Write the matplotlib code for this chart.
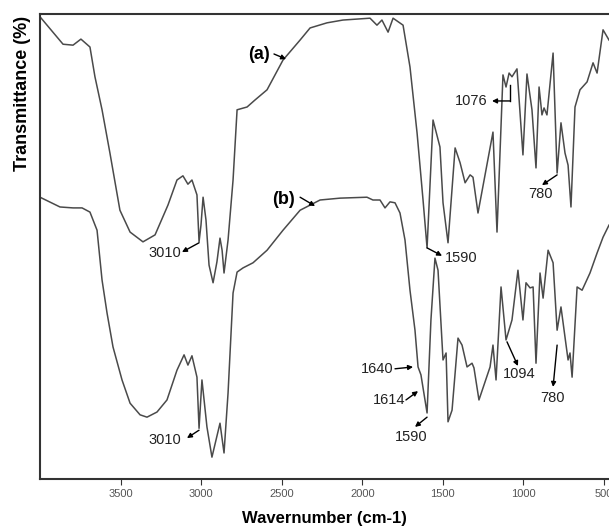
import matplotlib.pyplot as plt

plt.rcParams['font.family'] = ['Liberation Sans', 'DejaVu Sans']

# curve (a), wavenumber (cm-1) and transmittance (arbitrary %)
wn_a = [4000, 3857, 3795, 3746, 3690, 3659, 3615, 3566, 3504, 3441, 3361, 3286, 3206, 3150,
        3113, 3082, 3057, 3026, 3013, 3001, 2988, 2970, 2951, 2926, 2902, 2883, 2870, 2858,
        2833, 2802, 2777, 2715, 2666, 2591, 2492, 2386, 2324, 2219, 2120, 1952, 1909, 1878,
        1840, 1809, 1747, 1704, 1660, 1623, 1598, 1561, 1518, 1499, 1468, 1424, 1393, 1362,
        1331, 1313, 1282, 1189, 1164, 1127, 1108, 1089, 1071, 1040, 1003, 978, 947, 922, 903,
        885, 872, 854, 816, 791, 767, 742, 723, 705, 680, 649, 605, 568, 543, 506, 469]
t_a = [99.4, 93.5, 93.3, 94.6, 92.9, 86.5, 79.4, 70.1, 57.8, 53.1, 51.0, 52.5, 58.9, 64.3,
       65.2, 63.4, 64.3, 61.1, 51.0, 54.6, 60.6, 55.7, 46.0, 42.2, 46.7, 51.8, 49.2, 44.3,
       51.4, 64.3, 79.4, 80.0, 81.5, 83.7, 90.1, 94.4, 97.0, 98.1, 98.7, 99.1, 97.6, 98.7,
       96.1, 99.1, 97.6, 88.6, 74.4, 60.0, 49.7, 77.2, 71.4, 59.4, 50.8, 71.2, 68.0, 63.7,
       65.4, 64.9, 57.2, 74.6, 53.1, 86.9, 84.3, 87.3, 86.5, 88.2, 69.7, 87.1, 79.4, 66.9, 84.3,
       78.3, 79.8, 78.3, 91.6, 65.8, 76.6, 70.1, 67.5, 58.5, 80.0, 83.7, 85.4, 89.5, 87.3, 96.6, 94.4]

# curve (b)
wn_b = [4000, 3876, 3795, 3739, 3690, 3646, 3615, 3584, 3547, 3491, 3441, 3379, 3336, 3274,
        3212, 3150, 3106, 3082, 3057, 3026, 3013, 2995, 2964, 2933, 2883, 2858, 2833, 2802,
        2777, 2740, 2678, 2591, 2492, 2386, 2262, 2138, 1971, 1934, 1890, 1859, 1828, 1797,
        1766, 1735, 1704, 1673, 1654, 1636, 1623, 1598, 1574, 1549, 1530, 1499, 1480, 1468,
        1443, 1406, 1381, 1350, 1319, 1307, 1276, 1207, 1189, 1170, 1139, 1108, 1071, 1034,
        1003, 984, 959, 940, 922, 897, 878, 847, 816, 791, 767, 742, 723, 711, 698, 667, 636,
        587, 543, 506, 469]
t_b = [60.6, 58.5, 58.3, 58.3, 57.4, 53.5, 42.8, 35.7, 28.4, 21.3, 16.3, 13.8, 13.3, 14.4,
       17.0, 23.4, 26.7, 24.5, 26.5, 21.9, 10.9, 21.3, 11.2, 4.7, 12.0, 5.6, 18.5, 40.0,
       44.5, 45.4, 46.5, 49.2, 53.5, 57.8, 60.0, 60.4, 60.6, 60.0, 60.0, 58.3, 59.6, 59.4,
       57.2, 51.4, 40.6, 32.0, 24.1, 22.4, 19.6, 14.2, 34.2, 47.5, 44.9, 25.6, 27.1, 12.3,
       14.8, 30.3, 28.8, 24.1, 24.9, 23.9, 17.0, 24.1, 28.8, 21.3, 41.3, 29.9, 34.2, 44.9,
       34.2, 42.2, 41.1, 41.3, 24.9, 44.3, 38.9, 49.2, 46.5, 32.0, 37.0, 30.5, 25.6, 27.1,
       21.9, 41.3, 40.6, 44.3, 48.6, 52.0, 54.6]

# peak labels: text, text position, arrow tail, arrow head
peak_labels = [
    ('3010', (3224, 48.6), (3013, 50.8), (3119, 48.8)),
    ('1590', (1387, 47.5), (1598, 49.7), (1505, 48.0)),
    ('780', (897, 61.3), (791, 65.4), (885, 63.2)),
    ('3010', (3224, 8.4), (3013, 10.5), (3088, 8.8)),
    ('1640', (1909, 23.7), (1797, 23.7), (1685, 24.1)),
    ('1614', (1834, 17.0), (1729, 17.0), (1654, 18.9)),
    ('1590', (1698, 9.0), (1598, 13.3), (1673, 11.2)),
    ('1094', (1027, 22.6), (1102, 29.5), (1034, 24.3)),
    ('780', (822, 17.4), (791, 28.8), (816, 19.8)),
]

fig = plt.figure(figsize=(6.09, 5.29), dpi=100)
ax = fig.add_axes([40 / 609, 50 / 529, 569 / 609, 465 / 529])

ax.plot(wn_a, t_a, color='#4a4a4a', lw=1.1)
ax.plot(wn_b, t_b, color='#4a4a4a', lw=1.1)

ax.set_xlim(4000, 469)
ax.set_ylim(0, 100)

arrow = dict(arrowstyle='-|>', color='black', lw=1.0, mutation_scale=7, shrinkA=0, shrinkB=0)
for txt, tpos, tail, head in peak_labels:
    ax.text(tpos[0], tpos[1], txt, fontsize=10.5, ha='center', va='center', color='#222222')
    ax.annotate('', xy=head, xytext=tail, arrowprops=arrow)

# 1076 bracket arrow
ax.plot([1083, 1083], [84.7, 81.3], color='black', lw=1.0)
ax.annotate('', xy=(1195, 81.3), xytext=(1083, 81.3), arrowprops=arrow)
ax.text(1325, 81.3, '1076', fontsize=10.5, ha='center', va='center', color='#222222')

# curve labels
ax.text(2641, 91.2, '(a)', fontsize=13, fontweight='bold', ha='center', va='center')
ax.annotate('', xy=(2473, 90.3), xytext=(2548, 91.4), arrowprops=arrow)
ax.text(2492, 60.0, '(b)', fontsize=13, fontweight='bold', ha='center', va='center')
ax.annotate('', xy=(2293, 58.7), xytext=(2386, 60.6), arrowprops=arrow)

ax.set_xticks([3500, 3000, 2500, 2000, 1500, 1000, 500])
ax.tick_params(axis='x', direction='out', length=4, labelsize=8, labelcolor='#555555', color='#333333')
ax.set_yticks([])
ax.spines['right'].set_visible(False)
for s in ['left', 'bottom', 'top']:
    ax.spines[s].set_linewidth(1.5)
    ax.spines[s].set_color('#333333')

ax.set_xlabel('Wavernumber (cm-1)', fontsize=12, fontweight='bold', labelpad=8)
fig.text(23 / 609, 1 - 93 / 529, 'Transmittance (%)', rotation=90, fontsize=13,
         fontweight='bold', ha='center', va='center')

fig.savefig('out.png', dpi=100)
